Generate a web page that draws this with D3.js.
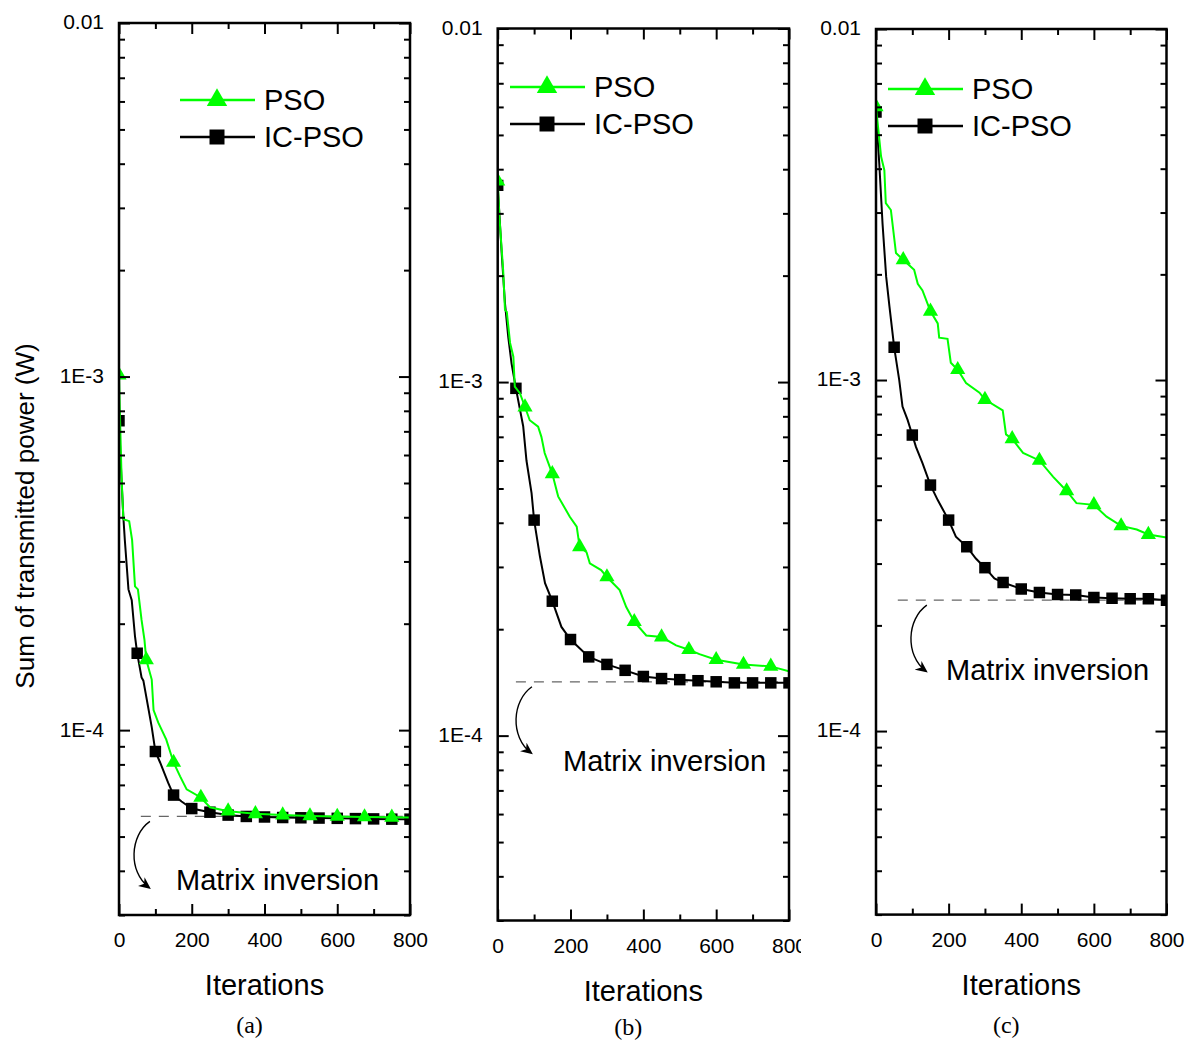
<!DOCTYPE html>
<html>
<head>
<meta charset="utf-8">
<script src="https://cdn.jsdelivr.net/npm/d3@7"></script>
<style>
body { margin: 0; background: #fff; }
text { font-family: "Liberation Sans", Arial, sans-serif; }
</style>
</head>
<body>
<script>
// tick values / labels
var iterMajor = [0, 200, 400, 600, 800];
var iterMinor = [100, 300, 500, 700];
var powerMajor = [1e-2, 1e-3, 1e-4];
var powerLabels = ["0.01", "1E-3", "1E-4"];
var seriesNames = ["PSO", "IC-PSO"];
var panelNames = ["(a)", "(b)", "(c)"];

// [iteration, sum of transmitted power in W]
var psoA = [[0,1.01e-3],[3,7.5e-4],[7,5.2e-4],[12,3.95e-4],[28,3.9e-4],[36,3.45e-4],[44,2.55e-4],[52,2.5e-4],[62,2.05e-4],[70,1.8e-4],[75,1.58e-4],[90,1.39e-4],[95,1.14e-4],[108,1.05e-4],[130,9.4e-5],[150,8.1e-5],[168,7.4e-5],[186,6.8e-5],[225,6.45e-5],[250,6.05e-5],[300,5.9e-5],[375,5.8e-5],[450,5.75e-5],[525,5.72e-5],[600,5.7e-5],[675,5.68e-5],[750,5.67e-5],[800,5.66e-5]];
var icpsoA = [[0,7.5e-4],[4,6.0e-4],[7,5.1e-4],[12,4.0e-4],[16,3.45e-4],[26,2.5e-4],[35,2.33e-4],[44,1.84e-4],[50,1.65e-4],[62,1.41e-4],[67,1.38e-4],[90,1.02e-4],[100,8.7e-5],[113,8.1e-5],[135,7.1e-5],[150,6.55e-5],[172,6.28e-5],[200,6.0e-5],[250,5.86e-5],[300,5.75e-5],[350,5.7e-5],[400,5.68e-5],[450,5.66e-5],[500,5.65e-5],[550,5.64e-5],[600,5.63e-5],[650,5.62e-5],[700,5.61e-5],[750,5.6e-5],[800,5.6e-5]];

var psoB = [[0,3.7e-3],[5,2.9e-3],[15,2.07e-3],[20,1.6e-3],[25,1.58e-3],[34,1.29e-3],[43,1.18e-3],[47,9.7e-4],[61,9.3e-4],[75,8.5e-4],[88,7.8e-4],[111,7.48e-4],[120,7.0e-4],[129,6.3e-4],[150,5.5e-4],[166,4.75e-4],[198,4.16e-4],[217,3.9e-4],[225,3.42e-4],[244,3.3e-4],[253,3.07e-4],[284,2.94e-4],[300,2.81e-4],[335,2.58e-4],[353,2.31e-4],[375,2.1e-4],[408,1.92e-4],[450,1.9e-4],[490,1.8e-4],[525,1.75e-4],[554,1.7e-4],[600,1.64e-4],[675,1.59e-4],[750,1.57e-4],[800,1.52e-4]];
var icpsoB = [[0,3.6e-3],[11,2.31e-3],[20,1.67e-3],[29,1.34e-3],[38,1.13e-3],[50,9.6e-4],[70,7.5e-4],[79,6.0e-4],[93,4.85e-4],[100,4.07e-4],[116,3.21e-4],[130,2.7e-4],[150,2.4e-4],[175,2.03e-4],[200,1.87e-4],[250,1.67e-4],[300,1.59e-4],[350,1.53e-4],[400,1.47e-4],[450,1.45e-4],[500,1.44e-4],[550,1.43e-4],[600,1.42e-4],[650,1.41e-4],[700,1.41e-4],[750,1.41e-4],[800,1.41e-4]];

var psoC = [[0,6.0e-3],[14,4.33e-3],[23,3.96e-3],[27,3.19e-3],[41,3.05e-3],[55,2.3e-3],[75,2.2e-3],[105,2.06e-3],[115,1.88e-3],[128,1.8e-3],[150,1.57e-3],[170,1.45e-3],[174,1.32e-3],[197,1.31e-3],[206,1.12e-3],[225,1.07e-3],[248,9.8e-4],[285,9.2e-4],[300,8.8e-4],[349,8.2e-4],[358,7.0e-4],[375,6.8e-4],[405,6.2e-4],[450,5.9e-4],[488,5.3e-4],[525,4.83e-4],[552,4.46e-4],[600,4.41e-4],[635,4.08e-4],[675,3.84e-4],[718,3.75e-4],[750,3.63e-4],[800,3.56e-4]];
var icpsoC = [[0,5.8e-3],[9,4.14e-3],[18,2.79e-3],[28,1.97e-3],[37,1.62e-3],[50,1.24e-3],[64,1.0e-3],[73,8.4e-4],[87,7.7e-4],[100,6.97e-4],[110,6.45e-4],[128,5.8e-4],[150,5.02e-4],[170,4.55e-4],[200,3.99e-4],[220,3.58e-4],[250,3.35e-4],[275,3.1e-4],[300,2.92e-4],[326,2.72e-4],[350,2.65e-4],[400,2.54e-4],[450,2.48e-4],[500,2.45e-4],[550,2.44e-4],[600,2.4e-4],[650,2.39e-4],[700,2.38e-4],[750,2.38e-4],[800,2.36e-4]];

// matrix inversion reference level per panel (W)
var matrixInv = [5.7e-5, 1.42e-4, 2.36e-4];

var green = "#00ff00";

var panels = [
  {l:119, r:410, t:23, b:915, pso:psoA, ic:icpsoA, lx:180, ly:100, nx:176, ny:880, ax:85, dashFrom:60, capY:1026},
  {l:497.7, r:789, t:28.5, b:920.5, pso:psoB, ic:icpsoB, lx:510, ly:87, nx:563, ny:761, ax:94, dashFrom:50, cut:801, capY:1028},
  {l:876, r:1166.5, t:29, b:914.6, pso:psoC, ic:icpsoC, lx:888, ly:89, nx:946, ny:670, ax:140, dashFrom:60, capY:1026}
];

var svg = d3.select("body").append("svg")
    .attr("width", 1186)
    .attr("height", 1041);

var defs = svg.append("defs");
defs.append("marker")
    .attr("id", "arrowHead")
    .attr("viewBox", "0 0 10 10")
    .attr("refX", 8).attr("refY", 5)
    .attr("markerWidth", 12).attr("markerHeight", 12)
    .attr("markerUnits", "userSpaceOnUse")
    .attr("orient", "auto")
  .append("path")
    .attr("d", "M0,0.5 L10,5 L0,9.5 L3,5 Z")
    .attr("fill", "#000");

var triangle = d3.symbol().type(d3.symbolTriangle);
var square = d3.symbol().type(d3.symbolSquare);

var minorPower = [];
[1e-5, 1e-4, 1e-3].forEach(function(dec) {
  for (var k = 2; k <= 9; k++) {
    var v = k * dec;
    if (v >= 3e-5 && v < 1e-2) minorPower.push(v);
  }
});

function styleAxis(g, size) {
  g.attr("font-family", "'Liberation Sans', Arial, sans-serif").attr("font-size", size);
  g.select(".domain").remove();
  g.selectAll(".tick line").attr("stroke", "#000").attr("stroke-width", 2);
  g.selectAll(".tick text").attr("fill", "#000");
}

panels.forEach(function(p, i) {
  var x = d3.scaleLinear().domain([0, 800]).range([p.l, p.r]);
  var y = d3.scaleLog().domain([3e-5, 1e-2]).range([p.b, p.t]);

  var g = svg.append("g");
  if (p.cut) {
    defs.append("clipPath").attr("id", "cut" + i)
      .append("rect").attr("x", 0).attr("y", 0).attr("width", p.cut).attr("height", 1041);
    g.attr("clip-path", "url(#cut" + i + ")");
  }
  defs.append("clipPath").attr("id", "plot" + i)
    .append("rect")
      .attr("x", p.l).attr("y", p.t)
      .attr("width", p.r - p.l).attr("height", p.b - p.t);

  var plot = g.append("g").attr("clip-path", "url(#plot" + i + ")");

  // matrix inversion level
  plot.append("line")
      .attr("x1", x(p.dashFrom)).attr("x2", x(800))
      .attr("y1", y(matrixInv[i])).attr("y2", y(matrixInv[i]))
      .attr("stroke", "#666").attr("stroke-width", 1.3)
      .attr("stroke-dasharray", "10,8");

  var line = d3.line()
      .x(function(d) { return x(d[0]); })
      .y(function(d) { return y(d[1]); });

  plot.append("path").datum(p.ic)
      .attr("d", line).attr("fill", "none")
      .attr("stroke", "#000").attr("stroke-width", 2);
  plot.selectAll(".sq").data(p.ic.filter(function(d) { return d[0] % 50 === 0; }))
    .enter().append("path")
      .attr("transform", function(d) { return "translate(" + x(d[0]) + "," + y(d[1]) + ")"; })
      .attr("d", square.size(132))
      .attr("fill", "#000");

  plot.append("path").datum(p.pso)
      .attr("d", line).attr("fill", "none")
      .attr("stroke", green).attr("stroke-width", 2);
  plot.selectAll(".tri").data(p.pso.filter(function(d) { return d[0] % 75 === 0 && d[0] <= 750; }))
    .enter().append("path")
      .attr("transform", function(d) { return "translate(" + x(d[0]) + "," + y(d[1]) + ")"; })
      .attr("d", triangle.size(100))
      .attr("fill", green);

  // axes: ticks inside on all four sides
  var bottom = g.append("g").attr("transform", "translate(0," + p.b + ")")
      .call(d3.axisBottom(x).tickValues(iterMajor).tickSize(-11).tickSizeOuter(0).tickPadding(25));
  styleAxis(bottom, 21);
  bottom.selectAll(".tick text").attr("dy", "0.35em");
  styleAxis(g.append("g").attr("transform", "translate(0," + p.b + ")")
      .call(d3.axisBottom(x).tickValues(iterMinor).tickSize(-6).tickSizeOuter(0).tickFormat("")), 21);
  styleAxis(g.append("g").attr("transform", "translate(0," + p.t + ")")
      .call(d3.axisTop(x).tickValues(iterMajor).tickSize(-11).tickSizeOuter(0).tickFormat("")), 21);
  styleAxis(g.append("g").attr("transform", "translate(0," + p.t + ")")
      .call(d3.axisTop(x).tickValues(iterMinor).tickSize(-6).tickSizeOuter(0).tickFormat("")), 21);

  var left = g.append("g").attr("transform", "translate(" + p.l + ",0)")
      .call(d3.axisLeft(y).tickValues(powerMajor).tickSize(-11).tickSizeOuter(0).tickPadding(15)
        .tickFormat(function(d, k) { return powerLabels[k]; }));
  styleAxis(left, 21);
  left.selectAll(".tick text").attr("dy", "0.28em");
  styleAxis(g.append("g").attr("transform", "translate(" + p.l + ",0)")
      .call(d3.axisLeft(y).tickValues(minorPower).tickSize(-6).tickSizeOuter(0).tickFormat("")), 21);
  styleAxis(g.append("g").attr("transform", "translate(" + p.r + ",0)")
      .call(d3.axisRight(y).tickValues(powerMajor).tickSize(-11).tickSizeOuter(0).tickFormat("")), 21);
  styleAxis(g.append("g").attr("transform", "translate(" + p.r + ",0)")
      .call(d3.axisRight(y).tickValues(minorPower).tickSize(-6).tickSizeOuter(0).tickFormat("")), 21);

  g.append("rect")
      .attr("x", p.l).attr("y", p.t)
      .attr("width", p.r - p.l).attr("height", p.b - p.t)
      .attr("fill", "none").attr("stroke", "#000").attr("stroke-width", 2.5);

  // curved arrow under the dashed line
  var sx = x(p.ax), sy = y(matrixInv[i]) + 5;
  g.append("path")
      .attr("d", "M" + sx + "," + sy +
        " C" + (sx - 20) + "," + (sy + 14) + " " + (sx - 22) + "," + (sy + 50) + " " + (sx - 1) + "," + (sy + 66))
      .attr("fill", "none").attr("stroke", "#000").attr("stroke-width", 1.4)
      .attr("marker-end", "url(#arrowHead)");

  g.append("text")
      .attr("x", p.nx).attr("y", p.ny).attr("dy", "0.35em")
      .attr("font-size", 29)
      .text("Matrix inversion");

  // legend
  var leg = g.append("g");
  [[green, triangle.size(180)], ["#000", square.size(225)]].forEach(function(s, k) {
    var ly = p.ly + k * 37;
    leg.append("line")
        .attr("x1", p.lx).attr("x2", p.lx + 75).attr("y1", ly).attr("y2", ly)
        .attr("stroke", s[0]).attr("stroke-width", 2.5);
    leg.append("path")
        .attr("transform", "translate(" + (p.lx + 37) + "," + ly + ")")
        .attr("d", s[1]).attr("fill", s[0]);
    leg.append("text")
        .attr("x", p.lx + 84).attr("y", ly).attr("dy", "0.35em")
        .attr("font-size", 29)
        .text(seriesNames[k]);
  });

  g.append("text")
      .attr("x", (p.l + p.r) / 2).attr("y", p.b + 70).attr("dy", "0.35em")
      .attr("text-anchor", "middle").attr("font-size", 29)
      .text("Iterations");

  svg.append("text")
      .attr("x", (p.l + p.r) / 2 - 15).attr("y", p.capY).attr("dy", "0.3em")
      .attr("text-anchor", "middle").attr("font-size", 24)
      .style("font-family", "'Liberation Serif', 'DejaVu Serif', serif")
      .text(panelNames[i]);
});

svg.append("text")
    .attr("transform", "translate(25,516) rotate(-90)")
    .attr("dy", "0.35em")
    .attr("text-anchor", "middle")
    .attr("font-size", 26)
    .text("Sum of transmitted power (W)");
</script>
</body>
</html>
